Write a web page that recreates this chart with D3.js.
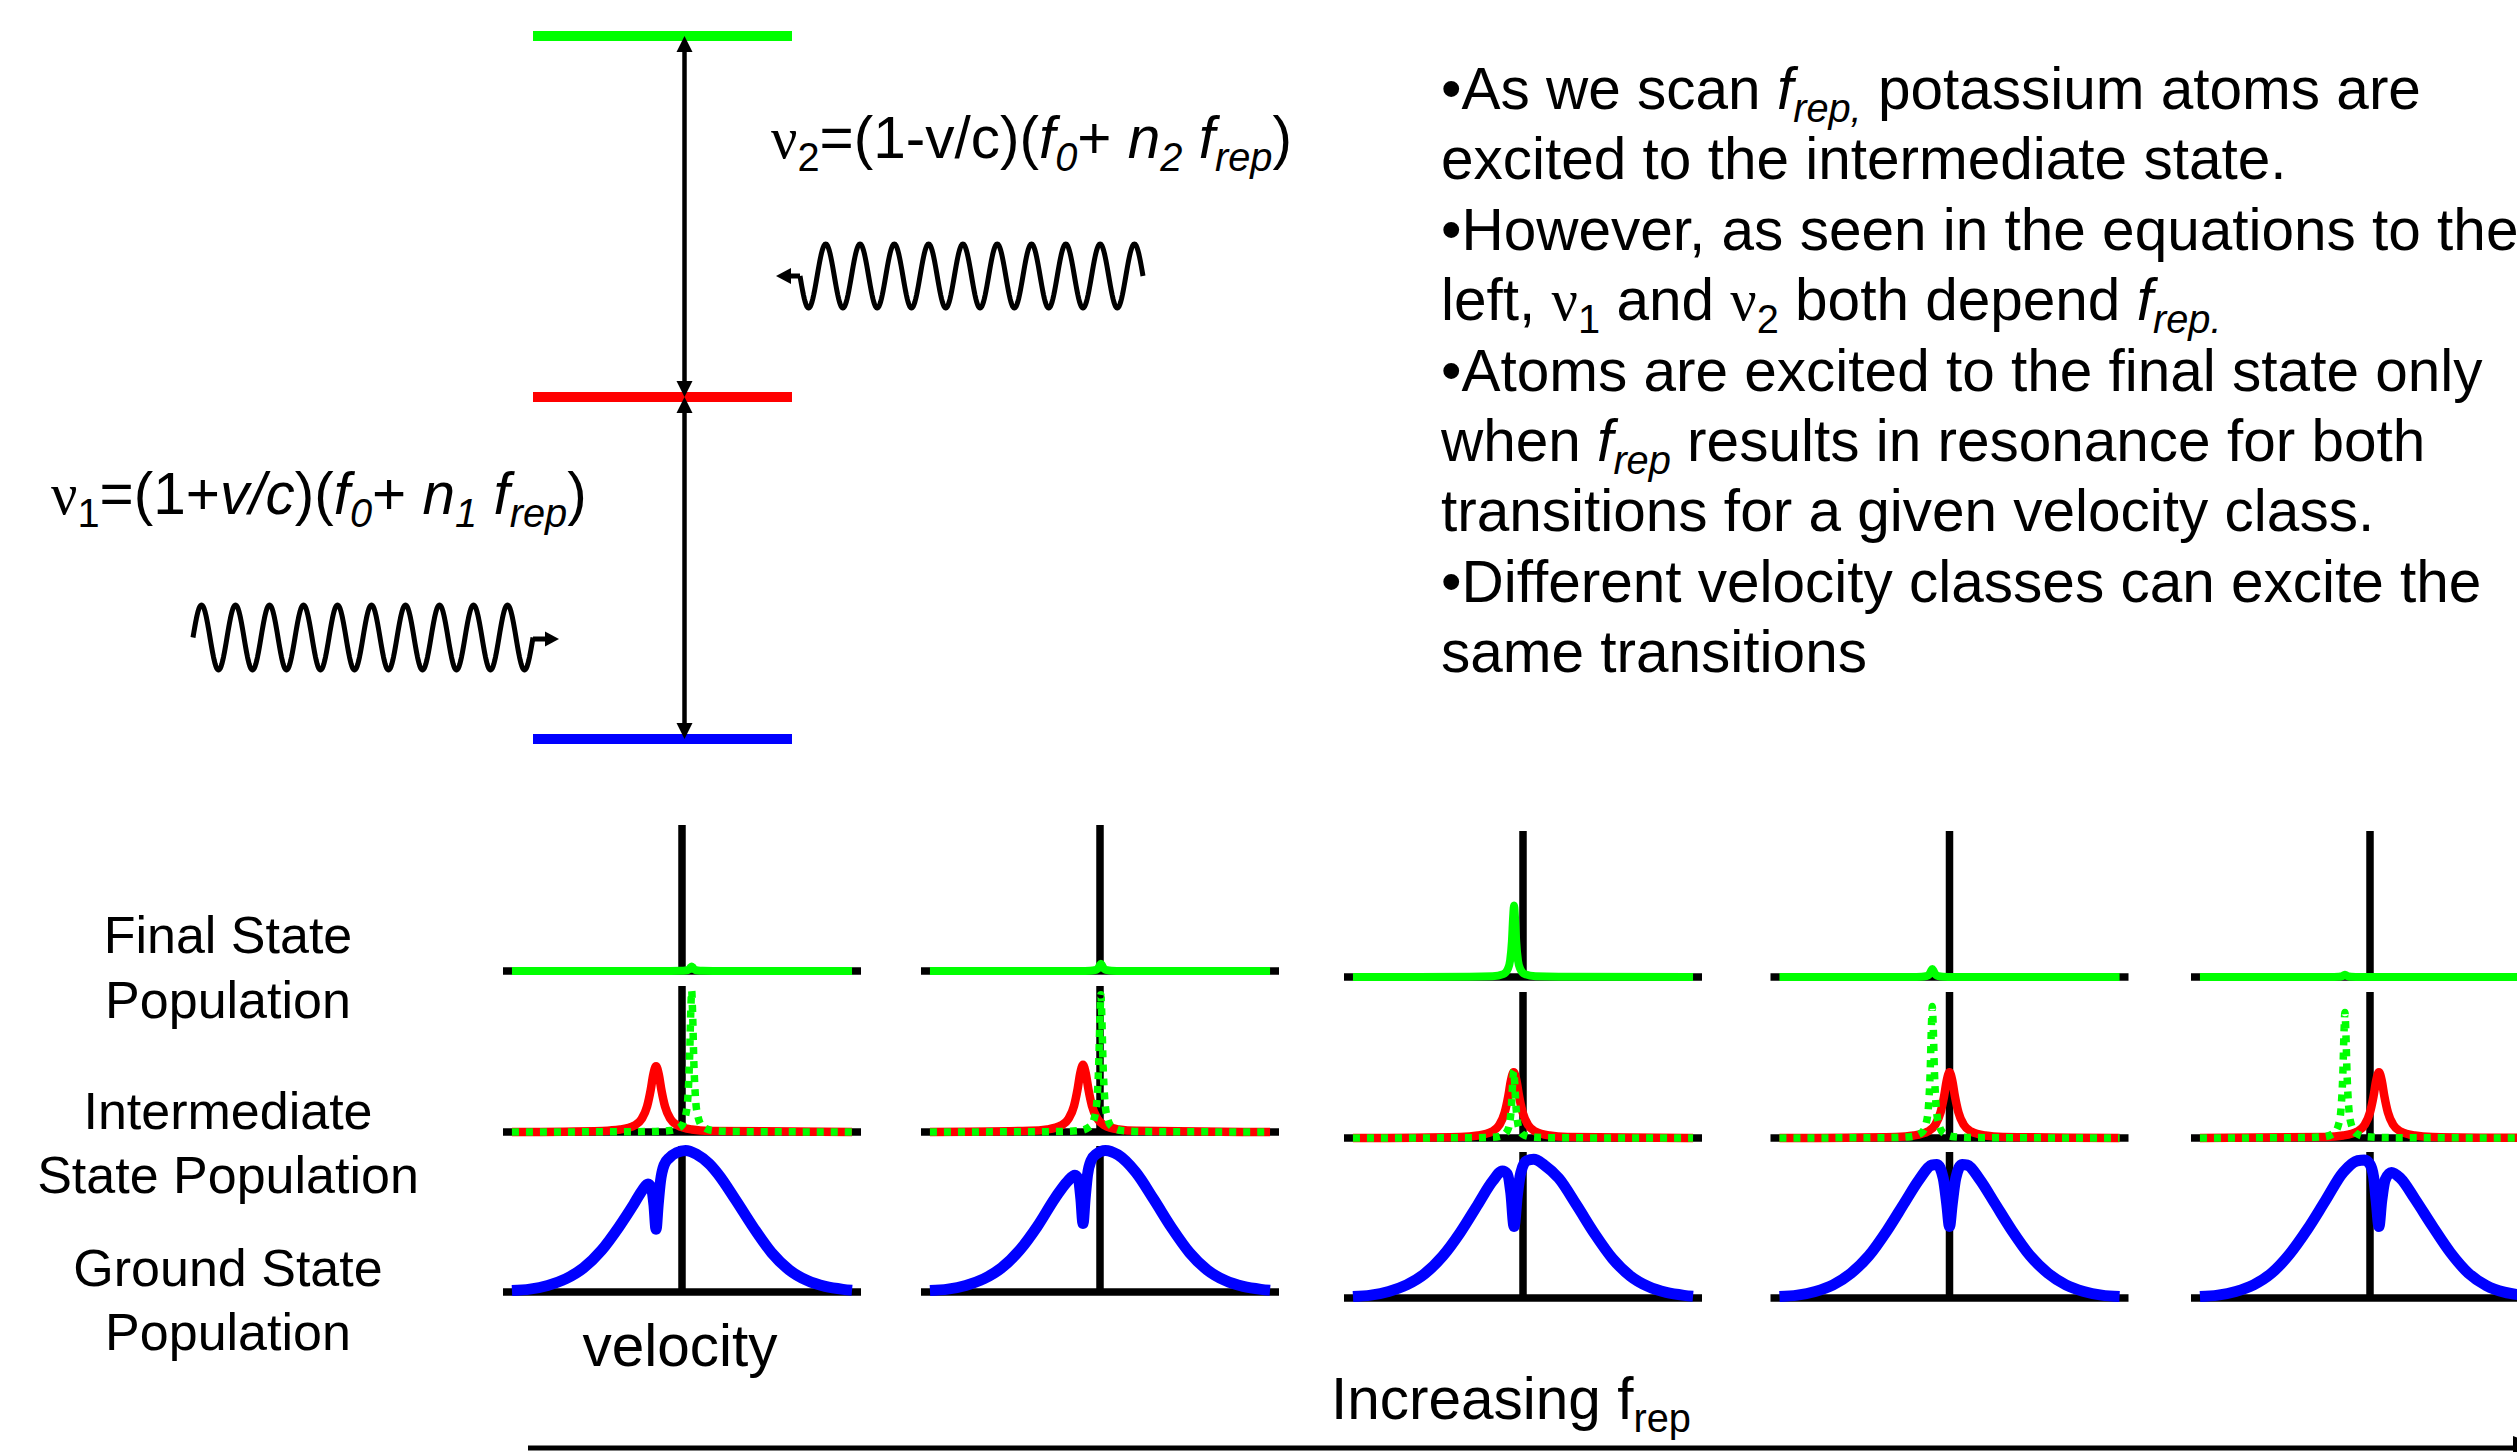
<!DOCTYPE html>
<html><head><meta charset="utf-8">
<script src="https://cdn.jsdelivr.net/npm/d3@7"></script>
<style>html,body{margin:0;padding:0;background:#fff;overflow:hidden}svg{display:block}text{white-space:pre}</style>
</head><body><svg id="c" width="2517" height="1452"></svg>
<script>
// ---------------- data ----------------
const frepSteps = [1, 2, 3, 4, 5];
const stateLabels = [["Final State", "Population"], ["Intermediate", "State Population"], ["Ground State", "Population"]];
// intermediate state (nu1 resonance, red) peak velocity and height
const redPeakV = [-0.145, -0.095, -0.052, 0.0, 0.05];
const redPeakH = [0.45, 0.46, 0.45, 0.45, 0.45];
const redProfile = [[-0.3,0.017],[-0.2,0.038],[-0.12,0.1],[-0.08,0.2],[-0.05,0.39],[-0.03,0.64],[-0.015,0.88],[0,1],[0.015,0.88],[0.03,0.64],[0.05,0.39],[0.08,0.2],[0.12,0.1],[0.2,0.038],[0.3,0.017]];
// nu2 resonance (green dotted) peak velocity and height
const greenPeakV = [0.054, 0.005, -0.052, -0.096, -0.14];
const greenPeakH = [0.97, 0.94, 0.46, 0.9, 0.86];
const narrowProfile = [[-0.25,0.003],[-0.12,0.01],[-0.06,0.04],[-0.035,0.11],[-0.022,0.23],[-0.012,0.5],[-0.005,0.85],[0,1],[0.005,0.85],[0.012,0.5],[0.022,0.23],[0.035,0.11],[0.06,0.04],[0.12,0.01],[0.25,0.003]];
// final state population peak
const finalPeakV = [0.054, 0.005, -0.05, -0.096, -0.14];
const finalPeakH = [0.03, 0.05, 0.49, 0.055, 0.015];
// ground state population (velocity, population)
const groundPop = [
 [[-0.95,0.01],[-0.85,0.02],[-0.75,0.045],[-0.65,0.09],[-0.55,0.165],[-0.45,0.285],[-0.35,0.45],[-0.27,0.6],[-0.22,0.7],[-0.19,0.74],[-0.17,0.71],[-0.157,0.6],[-0.145,0.43],[-0.133,0.6],[-0.12,0.76],[-0.1,0.87],[-0.07,0.92],[-0.03,0.955],[0.02,0.97],[0.08,0.945],[0.15,0.88],[0.2,0.81],[0.3,0.63],[0.4,0.44],[0.5,0.27],[0.6,0.15],[0.7,0.078],[0.8,0.038],[0.9,0.018],[0.95,0.012]],
 [[-0.95,0.01],[-0.85,0.02],[-0.75,0.045],[-0.65,0.09],[-0.55,0.165],[-0.45,0.285],[-0.35,0.45],[-0.25,0.645],[-0.18,0.76],[-0.14,0.8],[-0.12,0.77],[-0.107,0.64],[-0.095,0.47],[-0.083,0.64],[-0.07,0.8],[-0.05,0.9],[-0.02,0.945],[0.03,0.97],[0.1,0.94],[0.2,0.82],[0.3,0.635],[0.4,0.44],[0.5,0.27],[0.6,0.15],[0.7,0.078],[0.8,0.038],[0.9,0.018],[0.95,0.012]],
 [[-0.95,0.01],[-0.85,0.02],[-0.75,0.045],[-0.65,0.09],[-0.55,0.165],[-0.45,0.285],[-0.35,0.45],[-0.25,0.645],[-0.17,0.8],[-0.115,0.87],[-0.088,0.85],[-0.068,0.72],[-0.05,0.49],[-0.032,0.7],[-0.012,0.86],[0.02,0.94],[0.06,0.95],[0.12,0.91],[0.2,0.82],[0.3,0.635],[0.4,0.44],[0.5,0.27],[0.6,0.15],[0.7,0.078],[0.8,0.038],[0.9,0.018],[0.95,0.012]],
 [[-0.95,0.01],[-0.85,0.02],[-0.75,0.045],[-0.65,0.09],[-0.55,0.17],[-0.45,0.29],[-0.35,0.46],[-0.25,0.655],[-0.17,0.81],[-0.1,0.91],[-0.07,0.915],[-0.035,0.82],[-0.015,0.64],[0,0.49],[0.015,0.64],[0.035,0.82],[0.07,0.915],[0.1,0.91],[0.17,0.81],[0.25,0.655],[0.35,0.46],[0.45,0.29],[0.55,0.17],[0.65,0.09],[0.75,0.045],[0.85,0.02],[0.95,0.01]],
 [[-0.95,0.01],[-0.85,0.02],[-0.75,0.045],[-0.65,0.09],[-0.55,0.17],[-0.45,0.3],[-0.35,0.47],[-0.25,0.665],[-0.15,0.86],[-0.07,0.94],[-0.03,0.945],[0,0.915],[0.02,0.83],[0.035,0.66],[0.05,0.49],[0.065,0.66],[0.085,0.81],[0.12,0.86],[0.17,0.82],[0.25,0.68],[0.35,0.49],[0.45,0.31],[0.55,0.17],[0.65,0.085],[0.75,0.04],[0.85,0.02],[0.95,0.01]]
];
const levelColors = ["#00ff00", "#ff0000", "#0000ff"];
const bodyLines = [
 ["•As we scan ", {t:"f",i:1}, {t:"rep,",i:1,sub:1}, " potassium atoms are"],
 ["excited to the intermediate state."],
 ["•However, as seen in the equations to the"],
 ["left, ", {t:"ν",serif:1}, {t:"1",sub:1}, " and ", {t:"ν",serif:1}, {t:"2",sub:1}, " both depend ", {t:"f",i:1}, {t:"rep.",i:1,sub:1}],
 ["•Atoms are excited to the final state only"],
 ["when ", {t:"f",i:1}, {t:"rep",i:1,sub:1}, " results in resonance for both"],
 ["transitions for a given velocity class."],
 ["•Different velocity classes can excite the"],
 ["same transitions"]
];
const nu2Formula = [{t:"ν",serif:1}, {t:"2",sub:1}, "=(1-v/c)(", {t:"f",i:1}, {t:"0",i:1,sub:1}, "+ ", {t:"n",i:1}, {t:"2",i:1,sub:1}, " ", {t:"f",i:1}, {t:"rep",i:1,sub:1}, ")"];
const nu1Formula = [{t:"ν",serif:1}, {t:"1",sub:1}, "=(1+", {t:"v/c",i:1}, ")(", {t:"f",i:1}, {t:"0",i:1,sub:1}, "+ ", {t:"n",i:1}, {t:"1",i:1,sub:1}, " ", {t:"f",i:1}, {t:"rep",i:1,sub:1}, ")"];
const axisLabel = ["velocity"];
const scanLabel = ["Increasing f", {t:"rep",sub:1}];

// ---------------- layout ----------------
const svg = d3.select("#c");
svg.append("rect").attr("width",2517).attr("height",1452).attr("fill","#fff");
const SANS = "'Liberation Sans', Arial, Helvetica, sans-serif";
const SERIF = "'Liberation Serif', 'Times New Roman', serif";

function rich(parent, x, y, segs, fs, anchor) {
  const t = parent.append("text").attr("x", x).attr("y", y)
    .attr("font-family", SANS).attr("font-size", fs)
    .attr("text-anchor", anchor || "start").attr("fill", "#000");
  let inSub = false;
  segs.forEach(s => {
    const o = typeof s === "string" ? {t: s} : s;
    const ts = t.append("tspan").text(o.t);
    if (o.i) ts.attr("font-style", "italic");
    if (o.serif) ts.attr("font-family", SERIF);
    if (o.sub && !inSub) { ts.attr("dy", 0.22 * fs); inSub = true; }
    else if (!o.sub && inSub) { ts.attr("dy", -0.22 * fs); inSub = false; }
    if (o.sub) ts.attr("font-size", 0.68 * fs);
  });
  return t;
}

// ---- energy level diagram ----
const levelY = d3.scaleOrdinal().domain([0,1,2]).range([36, 397, 739]);
const levelX = d3.scaleLinear().domain([0,1]).range([533, 792]);
[0,1,2].forEach(k => {
  svg.append("line").attr("x1", levelX(0)).attr("x2", levelX(1))
    .attr("y1", levelY(k)).attr("y2", levelY(k))
    .attr("stroke", levelColors[k]).attr("stroke-width", 10);
});
const AX = 684.5;
function vArrow(yTop, yBot) {
  svg.append("line").attr("x1", AX).attr("x2", AX).attr("y1", yTop + 10).attr("y2", yBot - 10)
    .attr("stroke", "#000").attr("stroke-width", 4.5);
  svg.append("path").attr("d", `M${AX},${yTop} L${AX-8},${yTop+16} L${AX+8},${yTop+16} Z`).attr("fill", "#000");
  svg.append("path").attr("d", `M${AX},${yBot} L${AX-8},${yBot-16} L${AX+8},${yBot-16} Z`).attr("fill", "#000");
}
vArrow(levelY(0), levelY(1));
vArrow(levelY(1), levelY(2));

rich(svg, 771, 158, nu2Formula, 58.5);
rich(svg, 51, 514, nu1Formula, 58.5);

// photon wave glyphs
function wave(x0, x1, cy, amp, cycles, sign) {
  const n = 400, pts = [];
  for (let j = 0; j <= n; j++) {
    const x = x0 + (x1 - x0) * j / n;
    pts.push([x, cy + sign * amp * Math.sin(2 * Math.PI * cycles * j / n)]);
  }
  svg.append("path").attr("d", d3.line()(pts)).attr("fill", "none")
    .attr("stroke", "#000").attr("stroke-width", 5).attr("stroke-linejoin", "round");
}
wave(193, 533, 637.5, 32.5, 10, -1);
svg.append("line").attr("x1", 533).attr("x2", 547).attr("y1", 639).attr("y2", 639).attr("stroke", "#000").attr("stroke-width", 5);
svg.append("path").attr("d", "M559,639 L545,631.5 L545,646.5 Z").attr("fill", "#000");
wave(800, 1143, 276, 32, 10, 1);
svg.append("line").attr("x1", 800).attr("x2", 788).attr("y1", 276).attr("y2", 276).attr("stroke", "#000").attr("stroke-width", 5);
svg.append("path").attr("d", "M776,276 L791,268 L791,284 Z").attr("fill", "#000");

// ---- body text ----
bodyLines.forEach((segs, k) => rich(svg, 1441, 109 + k * 70.4, segs, 58.5));

// ---- state labels ----
const labelBase = [[953, 1018], [1129, 1193], [1286, 1350]];
stateLabels.forEach((lines, k) => lines.forEach((s, j) => rich(svg, 228, labelBase[k][j], [s], 52, "middle")));

// ---- population panels ----
const panelAxisX = [682, 1100, 1523, 1949.5, 2370];
const panelBaseY = [971, 971, 977, 977, 977];
const HALF = 179, SUBH = 146;
function shifted(profile, v0, h0) {
  return [[-0.95, 0]].concat(profile.map(d => [v0 + d[0], h0 * d[1]]), [[0.95, 0]]);
}
frepSteps.forEach((step, i) => {
  const g = svg.append("g").attr("class", "panel-" + step);
  const x = d3.scaleLinear().domain([-1, 1]).range([panelAxisX[i] - HALF, panelAxisX[i] + HALF]);
  const rows = [panelBaseY[i], panelBaseY[i] + 161, panelBaseY[i] + 321];
  const ys = rows.map(b => d3.scaleLinear().domain([0, 1]).range([b, b - SUBH]));
  ys.forEach(y => {
    g.append("line").attr("x1", x(-1)).attr("x2", x(1)).attr("y1", y(0)).attr("y2", y(0))
      .attr("stroke", "#000").attr("stroke-width", 7.5);
    g.append("line").attr("x1", x(0)).attr("x2", x(0)).attr("y1", y(0)).attr("y2", y(1))
      .attr("stroke", "#000").attr("stroke-width", 7.5);
  });
  const mk = y => d3.line().x(d => x(d[0])).y(d => y(d[1])).curve(d3.curveMonotoneX);
  // final state
  g.append("path").attr("d", mk(ys[0])(shifted(narrowProfile, finalPeakV[i], finalPeakH[i])))
    .attr("fill", "none").attr("stroke", "#00ff00").attr("stroke-width", 8);
  // intermediate state
  g.append("path").attr("d", mk(ys[1])(shifted(redProfile, redPeakV[i], redPeakH[i])))
    .attr("fill", "none").attr("stroke", "#ff0000").attr("stroke-width", 8.5);
  g.append("path").attr("d", mk(ys[1])(shifted(narrowProfile, greenPeakV[i], greenPeakH[i])))
    .attr("fill", "none").attr("stroke", "#00ff00").attr("stroke-width", 7.5)
    .attr("stroke-dasharray", "7,7");
  // ground state
  g.append("path").attr("d", mk(ys[2])(groundPop[i]))
    .attr("fill", "none").attr("stroke", "#0000ff").attr("stroke-width", 11);
});

rich(svg, 680, 1366, axisLabel, 58.5, "middle");
rich(svg, 1331, 1419, scanLabel, 58.5);
svg.append("line").attr("x1", 528).attr("x2", 2530).attr("y1", 1448).attr("y2", 1448)
  .attr("stroke", "#000").attr("stroke-width", 5);
svg.append("path").attr("d", "M2545,1448 L2513,1436 L2513,1460 Z").attr("fill", "#000");
</script></body></html>
